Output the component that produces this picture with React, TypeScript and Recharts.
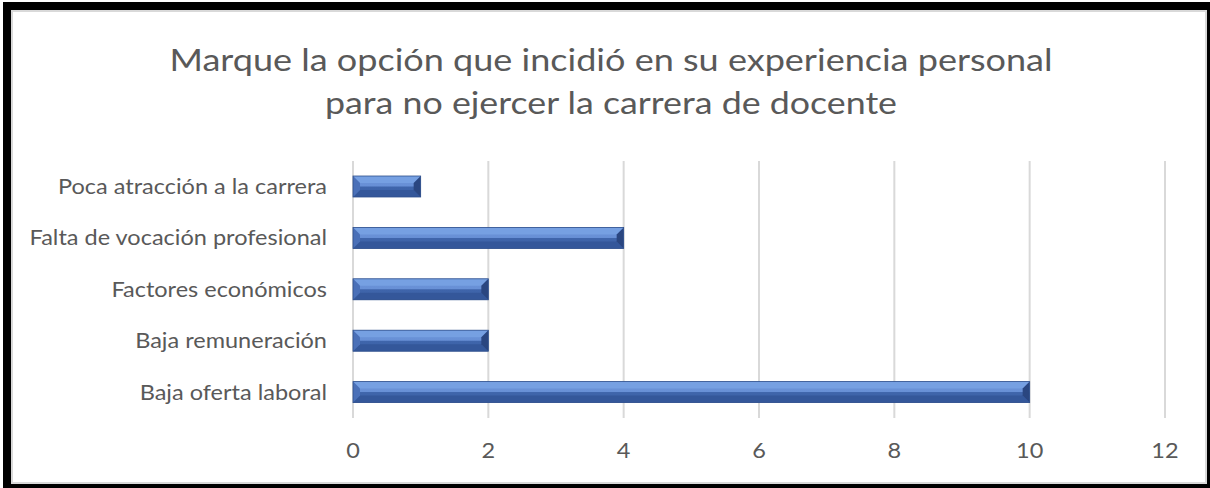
import { BarChart, Bar, XAxis, YAxis, CartesianGrid } from 'recharts';

const categories = [
  'Poca atracción a la carrera',
  'Falta de vocación profesional',
  'Factores económicos',
  'Baja remuneración',
  'Baja oferta laboral',
];
const counts = [1, 4, 2, 2, 10];
const xTicks = [0, 2, 4, 6, 8, 10, 12];
const titleLines = [
  'Marque la opción que incidió en su experiencia personal',
  'para no ejercer la carrera de docente',
];

const data = categories.map((name, i) => ({ name, value: counts[i] }));

const FONT = 'Lato, "Open Sans", sans-serif';
const TEXT = '#595959';
// the source picture is stretched sideways a little
const SX = 1.12;

function YTick(props: any) {
  const { x, y, payload } = props;
  return (
    <g transform={`translate(${x},${y})`}>
      <text transform={`scale(${SX},1)`} textAnchor="end" dy="0.35em" fill={TEXT} fontSize={21} fontFamily={FONT}>
        {payload.value}
      </text>
    </g>
  );
}

function XTick(props: any) {
  const { x, y, payload } = props;
  return (
    <g transform={`translate(${x},${y})`}>
      <text transform={`scale(${SX},1)`} textAnchor="middle" dy="0.71em" fill={TEXT} fontSize={21} fontFamily={FONT}>
        {payload.value}
      </text>
    </g>
  );
}

// bevelled bar, like the office "bevel" effect
function BevelBar(props: any) {
  const { x, y, width, height } = props;
  if (!width || width <= 0) return null;
  const b = Math.min(7, height / 3, width / 2);
  const x2 = x + width;
  const y2 = y + height;
  return (
    <g>
      <rect x={x} y={y} width={width} height={height} fill="url(#bevelFace)" />
      <polygon points={`${x},${y} ${x2},${y} ${x2 - b},${y + b} ${x + b},${y + b}`} fill="#76a0e2" />
      <polygon points={`${x},${y2} ${x2},${y2} ${x2 - b},${y2 - b} ${x + b},${y2 - b}`} fill="#34579a" />
      <polygon points={`${x},${y} ${x + b},${y + b} ${x + b},${y2 - b} ${x},${y2}`} fill="#4a70b8" />
      <polygon points={`${x2},${y} ${x2 - b},${y + b} ${x2 - b},${y2 - b} ${x2},${y2}`} fill="#2a4680" />
      <rect x={x} y={y} width={width} height={height} fill="none" stroke="#2f4f8c" strokeWidth={0.8} />
    </g>
  );
}

export default function App() {
  return (
    <div style={{ position: 'absolute', left: 0, top: 0, width: 1210, height: 488, background: '#fff' }}>
      <BarChart
        width={1210}
        height={488}
        data={data}
        layout="vertical"
        margin={{ top: 161, right: 45, bottom: 40, left: 0 }}
      >
        <defs>
          <linearGradient id="bevelFace" x1="0" y1="0" x2="0" y2="1">
            <stop offset="0%" stopColor="#6b93d8" />
            <stop offset="48%" stopColor="#6890d6" />
            <stop offset="52%" stopColor="#3f65ab" />
            <stop offset="100%" stopColor="#3c61a6" />
          </linearGradient>
        </defs>
        <CartesianGrid horizontal={false} stroke="#d9d9d9" strokeWidth={2} />
        <XAxis
          type="number"
          domain={[0, 12]}
          ticks={xTicks}
          axisLine={false}
          tickLine={false}
          tickSize={0}
          tickMargin={25}
          height={30}
          tick={<XTick />}
        />
        <YAxis
          type="category"
          dataKey="name"
          width={353}
          axisLine={false}
          tickLine={false}
          tickSize={0}
          tickMargin={26}
          tick={<YTick />}
        />
        <Bar dataKey="value" barSize={21} shape={<BevelBar />} isAnimationActive={false} />
      </BarChart>
      <svg width={1210} height={488} style={{ position: 'absolute', left: 0, top: 0, pointerEvents: 'none' }}>
        {titleLines.map((t, i) => (
          <text
            key={i}
            x={611}
            y={71 + i * 43}
            textAnchor="middle"
            fill={TEXT}
            fontSize={30}
            fontFamily={FONT}
            textLength={i === 0 ? 883 : 572}
            lengthAdjust="spacingAndGlyphs"
          >
            {t}
          </text>
        ))}
      </svg>
      <div
        style={{
          position: 'absolute',
          left: 3,
          top: 2,
          width: 1207,
          height: 486,
          boxSizing: 'border-box',
          borderStyle: 'solid',
          borderColor: '#000',
          borderWidth: '8px 3px 4px 8px',
          pointerEvents: 'none',
        }}
      >
        <div style={{ width: '100%', height: '100%', boxSizing: 'border-box', border: '2px solid #d9d9d9' }} />
      </div>
    </div>
  );
}
